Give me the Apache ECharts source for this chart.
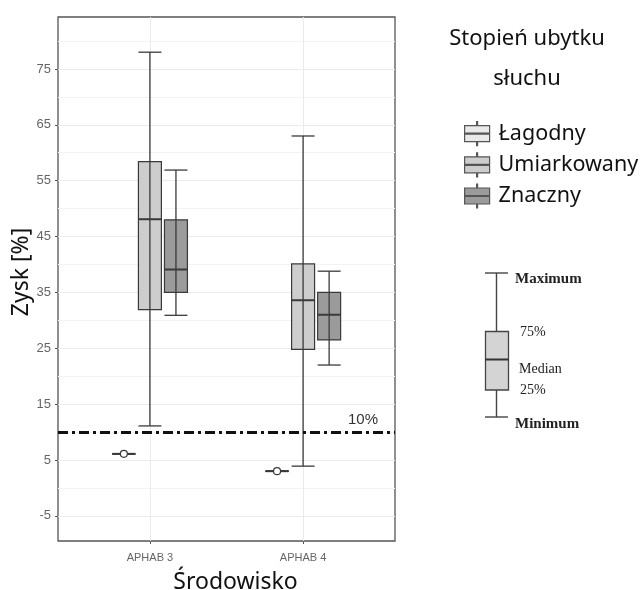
<!DOCTYPE html>
<html>
<head>
<meta charset="utf-8">
<script src="https://cdn.jsdelivr.net/npm/echarts@6/dist/echarts.min.js"></script>
<style>
  html, body { margin: 0; padding: 0; background: #fff; }
  #chart { width: 643px; height: 590px; }
</style>
</head>
<body>
<div id="chart"></div>
<script>
// dane: [kategoria, min, q1, mediana, q3, max]
var categories = ['APHAB 3', 'APHAB 4']
var groups = ['Łagodny', 'Umiarkowany', 'Znaczny']
var lagodny = [[1, 6.1, 6.1, 6.1, 6.1, 6.1], [2, 3.0, 3.0, 3.0, 3.0, 3.0]]
var umiarkowany = [[1, 11.1, 31.9, 48.1, 58.4, 78.0], [2, 3.9, 24.8, 33.6, 40.1, 63.0]]
var znaczny = [[1, 30.9, 35.0, 39.1, 48.0, 56.9], [2, 22.0, 26.5, 31.0, 35.0, 38.8]]
var threshold = 10
var yTicks = [-5, 5, 15, 25, 35, 45, 55, 65, 75]
var yMinorTicks = [0, 10, 20, 30, 40, 50, 60, 70, 80]
var xTicks = [1, 2]

var fills = ['#e9e9e9', '#cdcdcd', '#9b9b9b']
var dodge = 0.17 // odstep miedzy pudelkami (jednostki osi)
var boxWidth = 0.15
var lineColor = '#3a3a3a'
var sans = '"Noto Sans", "Open Sans", sans-serif'

function boxRenderer(offset, withPoint) {
  return function(params, api) {
    var x = api.value(0) + offset
    var pMin = api.coord([x, api.value(1)])
    var pQ1 = api.coord([x, api.value(2)])
    var pMed = api.coord([x, api.value(3)])
    var pQ3 = api.coord([x, api.value(4)])
    var pMax = api.coord([x, api.value(5)])
    var half = api.size([boxWidth, 0])[0] / 2
    var cx = pMed[0]
    var children = [
      {
        type: 'rect',
        shape: { x: cx - half, y: pQ3[1], width: half * 2, height: pQ1[1] - pQ3[1] },
        style: { fill: api.visual('color'), stroke: lineColor, lineWidth: 1.2 }
      },
      {
        type: 'line',
        shape: { x1: cx, y1: pMin[1], x2: cx, y2: pMax[1] },
        style: { stroke: lineColor, lineWidth: 1.3 }
      },
      {
        type: 'line',
        shape: { x1: cx - half, y1: pMax[1], x2: cx + half, y2: pMax[1] },
        style: { stroke: lineColor, lineWidth: 1.3 }
      },
      {
        type: 'line',
        shape: { x1: cx - half, y1: pMin[1], x2: cx + half, y2: pMin[1] },
        style: { stroke: lineColor, lineWidth: 1.3 }
      },
      {
        type: 'line',
        shape: { x1: cx - half, y1: pMed[1], x2: cx + half, y2: pMed[1] },
        style: { stroke: lineColor, lineWidth: 2 }
      }
    ]
    if (withPoint) {
      children.push({
        type: 'circle',
        shape: { cx: cx, cy: pMed[1], r: 3.5 },
        style: { fill: '#fff', stroke: lineColor, lineWidth: 1.2 }
      })
    }
    return { type: 'group', children: children }
  }
}

var legendIcon = 'path://M12,0 L13,0 L13,4 L12,4 Z M0,4 L25,4 L25,20 L0,20 Z M0,11.5 L25,11.5 L25,12.5 L0,12.5 Z M12,20 L13,20 L13,24 L12,24 Z'

var seriesData = [lagodny, umiarkowany, znaczny]
var series = groups.map(function(name, i) {
  var s = {
    name: name,
    type: 'custom',
    coordinateSystem: 'cartesian2d',
    renderItem: boxRenderer((i - 1) * dodge, i === 0),
    itemStyle: { color: fills[i] },
    encode: { x: 0, y: [1, 2, 3, 4, 5] },
    data: seriesData[i],
    z: 3
  }
  if (i === 0) {
    s.markLine = {
      silent: true,
      symbol: 'none',
      lineStyle: { color: '#111', width: 3, type: [10, 4, 3, 4] },
      label: {
        show: true,
        position: 'insideEndTop',
        formatter: threshold + '%',
        color: '#333',
        fontSize: 15,
        fontFamily: 'Liberation Sans, Arial, sans-serif',
        padding: [0, 12, 0, 0]
      },
      data: [{ yAxis: threshold }]
    }
  }
  return s
})

var option = {
  animation: false,
  backgroundColor: '#fff',
  title: {
    text: 'Stopień ubytku\nsłuchu',
    left: 527,
    top: 19,
    padding: 0,
    textAlign: 'center',
    textStyle: { fontFamily: sans, fontSize: 22, fontWeight: 'normal', color: '#111', lineHeight: 40 }
  },
  legend: {
    orient: 'vertical',
    left: 464,
    top: 121,
    padding: 0,
    itemWidth: 25,
    itemHeight: 25,
    itemGap: 6,
    icon: legendIcon,
    itemStyle: { borderColor: '#555', borderWidth: 1.2 },
    textStyle: { fontFamily: sans, fontSize: 21.5, color: '#111', padding: [0, 0, 0, 4] },
    data: groups
  },
  grid: {
    left: 58,
    top: 17,
    right: 248,
    bottom: 49,
    outerBoundsMode: 'none',
    show: true,
    borderColor: '#555',
    borderWidth: 1.3,
    backgroundColor: '#fff'
  },
  xAxis: {
    type: 'value',
    min: 0.4,
    max: 2.6,
    name: 'Środowisko',
    nameLocation: 'middle',
    nameGap: 30,
    nameMoveOverlap: false,
    nameTextStyle: { fontFamily: sans, fontSize: 23, color: '#111', padding: [0, 0, 0, 18] },
    axisLine: { show: false, onZero: false },
    axisTick: { show: true, length: 3, customValues: xTicks, lineStyle: { color: '#555' } },
    axisLabel: {
      customValues: xTicks,
      margin: 11,
      color: '#666',
      fontSize: 11,
      fontFamily: 'Liberation Sans, Arial, sans-serif',
      formatter: function(v) { return categories[Math.round(v) - 1] }
    },
    splitLine: { show: true, lineStyle: { color: '#ebebeb', width: 1 } }
  },
  yAxis: [
    {
      type: 'value',
      min: -9.5,
      max: 84.3,
      name: 'Zysk [%]',
      nameLocation: 'middle',
      nameGap: 25,
      nameMoveOverlap: false,
      nameTextStyle: { fontFamily: sans, fontSize: 23, color: '#111', padding: [0, 0, 0, 14] },
      axisLine: { show: false, onZero: false },
      axisTick: { show: true, length: 3, customValues: yTicks, lineStyle: { color: '#555' } },
      axisLabel: {
        customValues: yTicks,
        margin: 7,
        color: '#666',
        fontSize: 13,
        fontFamily: 'Liberation Sans, Arial, sans-serif'
      },
      splitLine: { show: true, lineStyle: { color: '#ebebeb', width: 1.2 } }
    },
    {
      type: 'value',
      min: -9.5,
      max: 84.3,
      position: 'left',
      axisLine: { show: false, onZero: false },
      axisTick: { show: false, customValues: yMinorTicks },
      axisLabel: { show: false, customValues: yMinorTicks },
      splitLine: { show: true, lineStyle: { color: '#f3f3f3', width: 1 } }
    }
  ],
  graphic: [
    // schemat wykresu pudelkowego (objasnienie)
    { type: 'line', shape: { x1: 496.5, y1: 273, x2: 496.5, y2: 417 }, style: { stroke: '#444', lineWidth: 1.4 } },
    { type: 'line', shape: { x1: 485, y1: 273, x2: 508, y2: 273 }, style: { stroke: '#444', lineWidth: 1.4 } },
    { type: 'line', shape: { x1: 485, y1: 417, x2: 508, y2: 417 }, style: { stroke: '#444', lineWidth: 1.4 } },
    { type: 'rect', shape: { x: 485.5, y: 331.5, width: 23, height: 58.5 }, style: { fill: '#d4d4d4', stroke: '#444', lineWidth: 1.3 } },
    { type: 'line', shape: { x1: 485.5, y1: 359.5, x2: 508.5, y2: 359.5 }, style: { stroke: '#333', lineWidth: 2 } },
    { type: 'text', x: 515, y: 279, style: { text: 'Maximum', font: 'bold 15px "Liberation Serif", serif', fill: '#222', verticalAlign: 'middle' } },
    { type: 'text', x: 520, y: 332, style: { text: '75%', font: '14px "Liberation Serif", serif', fill: '#222', verticalAlign: 'middle' } },
    { type: 'text', x: 519, y: 369, style: { text: 'Median', font: '14px "Liberation Serif", serif', fill: '#222', verticalAlign: 'middle' } },
    { type: 'text', x: 520, y: 390, style: { text: '25%', font: '14px "Liberation Serif", serif', fill: '#222', verticalAlign: 'middle' } },
    { type: 'text', x: 515, y: 424, style: { text: 'Minimum', font: 'bold 15px "Liberation Serif", serif', fill: '#222', verticalAlign: 'middle' } }
  ],
  series: series
}

var chart = echarts.init(document.getElementById('chart'))
chart.setOption(option)
</script>
</body>
</html>
